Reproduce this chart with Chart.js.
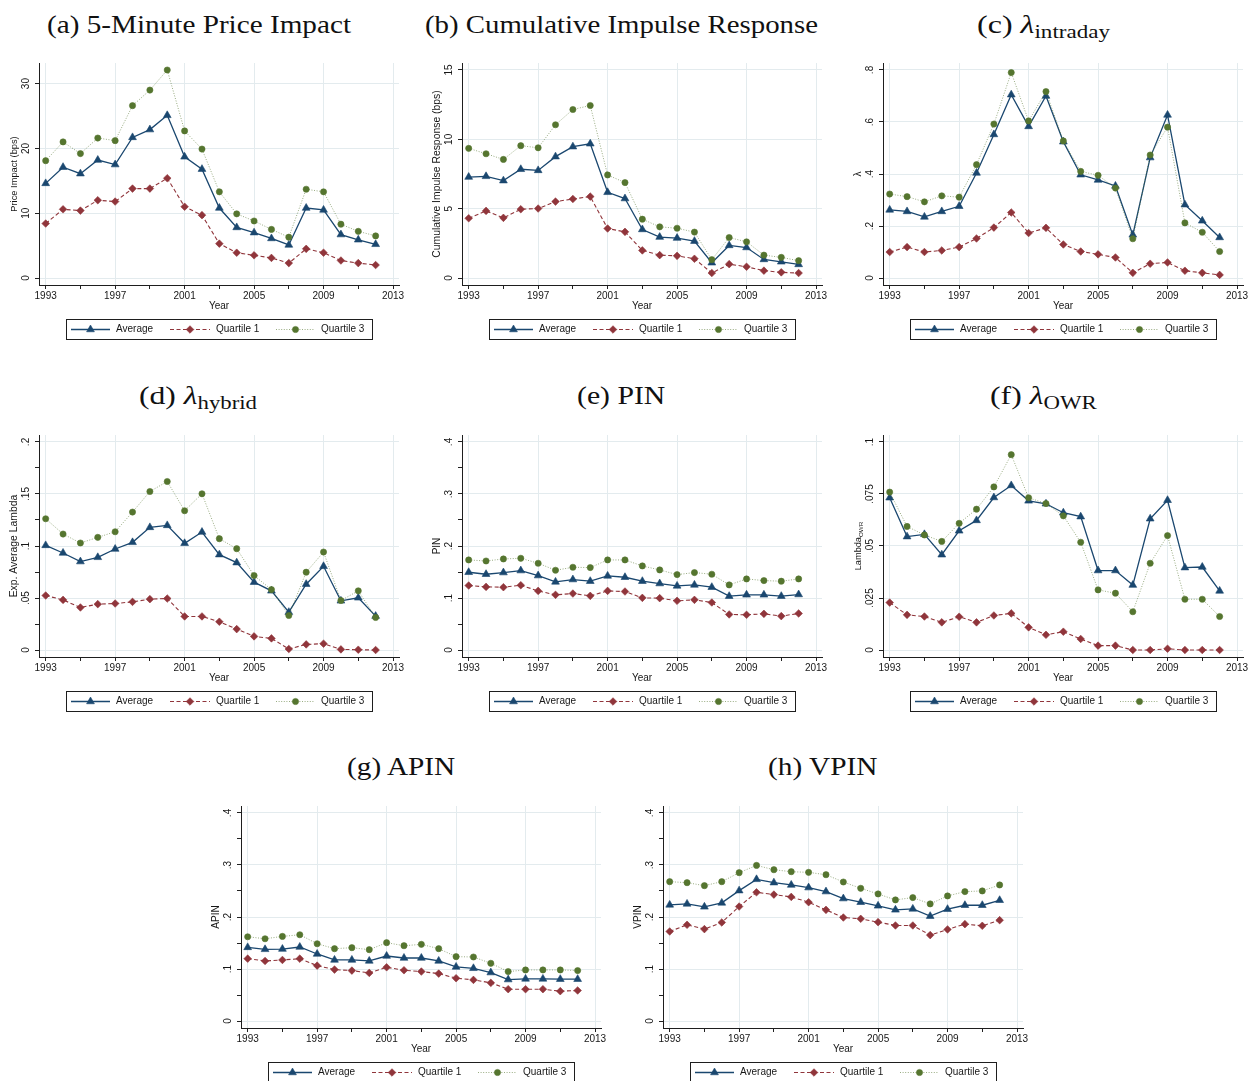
<!DOCTYPE html>
<html>
<head>
<meta charset="utf-8">
<title>Price impact and information asymmetry measures, 1993-2012</title>
<script src="https://cdn.jsdelivr.net/npm/chart.js@4.4.1/dist/chart.umd.min.js"></script>
<style>
  html, body { margin: 0; padding: 0; background: #fff; width: 1250px; height: 1081px; overflow: hidden; }
  canvas { position: absolute; }
  .ttl { position: absolute; white-space: nowrap; font-family: "Liberation Serif", "Times New Roman", serif;
         font-size: 26px; line-height: 1; color: #111; transform-origin: 0 0; }
  .ttl .lam { font-style: italic; }
  .ttl .sb { position: relative; top: 0.28em; font-size: 0.72em; }
</style>
</head>
<body>
<script>
// ---- data -------------------------------------------------------------
const years = [1993, 1994, 1995, 1996, 1997, 1998, 1999, 2000, 2001, 2002,
               2003, 2004, 2005, 2006, 2007, 2008, 2009, 2010, 2011, 2012];
const xMajorTicks = [1993, 1997, 2001, 2005, 2009, 2013];
const xMinorTicks = [1995, 1999, 2003, 2007, 2011];
const seriesNames = ['Average', 'Quartile 1', 'Quartile 3'];

// (a) 5-minute price impact, bps
const priceImpactAvg = [14.6, 17.1, 16.1, 18.2, 17.5, 21.7, 22.9, 25.1, 18.7, 16.8, 10.8, 7.8, 7.0, 6.1, 5.1, 10.8, 10.5, 6.7, 5.9, 5.2];
const priceImpactQ1  = [8.4, 10.6, 10.4, 12.0, 11.8, 13.8, 13.8, 15.4, 11.0, 9.7, 5.3, 3.9, 3.5, 3.1, 2.3, 4.5, 3.9, 2.7, 2.3, 2.0];
const priceImpactQ3  = [18.1, 21.0, 19.2, 21.6, 21.2, 26.6, 29.0, 32.1, 22.7, 19.9, 13.3, 9.9, 8.8, 7.5, 6.3, 13.7, 13.3, 8.3, 7.2, 6.5];
const priceImpactTicks = [0, 10, 20, 30];
const priceImpactTickLabels = ['0', '10', '20', '30'];

// (b) cumulative impulse response, bps
const cirAvg = [7.28, 7.33, 7.02, 7.84, 7.76, 8.75, 9.47, 9.68, 6.18, 5.73, 3.50, 2.95, 2.88, 2.66, 1.10, 2.35, 2.20, 1.34, 1.17, 0.98];
const cirQ1  = [4.31, 4.84, 4.34, 4.96, 5.01, 5.51, 5.70, 5.87, 3.57, 3.33, 1.99, 1.65, 1.60, 1.39, 0.36, 1.00, 0.81, 0.53, 0.41, 0.36];
const cirQ3  = [9.35, 8.96, 8.55, 9.54, 9.39, 11.05, 12.15, 12.44, 7.43, 6.88, 4.24, 3.69, 3.59, 3.31, 1.32, 2.92, 2.61, 1.65, 1.49, 1.25];
const cirTicks = [0, 5, 10, 15];
const cirTickLabels = ['0', '5', '10', '15'];

// (c) intraday lambda
const lamIntraAvg = [.262, .256, .235, .256, .276, .404, .552, .705, .583, .700, .524, .397, .377, .354, .166, .463, .627, .282, .220, .156];
const lamIntraQ1  = [.100, .119, .100, .106, .119, .152, .194, .252, .173, .193, .129, .102, .091, .079, .020, .055, .060, .028, .020, .012];
const lamIntraQ3  = [.323, .313, .293, .316, .311, .436, .592, .790, .604, .717, .527, .410, .395, .346, .151, .473, .580, .212, .176, .102];
const lamIntraTicks = [0, .2, .4, .6, .8];
const lamIntraTickLabels = ['0', '.2', '.4', '.6', '.8'];

// (d) hybrid lambda
const lamHybAvg = [.1006, .0933, .0850, .0891, .0971, .1035, .1179, .1198, .1026, .1134, .0917, .0840, .0652, .0569, .0364, .0633, .0805, .0473, .0502, .0326];
const lamHybQ1  = [.0524, .0482, .0409, .0441, .0447, .0463, .0489, .0495, .0323, .0323, .0272, .0201, .0131, .0112, .0010, .0054, .0061, .0006, .0003, .0000];
const lamHybQ3  = [.1262, .1115, .1029, .1083, .1137, .1326, .1524, .1620, .1339, .1502, .1070, .0974, .0716, .0581, .0332, .0748, .0942, .0476, .0569, .0313];
const lamHybTicks = [0, .05, .1, .15, .2];
const lamHybTickLabels = ['0', '.05', '.1', '.15', '.2'];
const lamHybMinorTicks = [.025, .075, .125, .175];

// (e) PIN
const pinAvg = [.1495, .1457, .1489, .1527, .1431, .1310, .1355, .1323, .1425, .1399, .1323, .1278, .1233, .1252, .1208, .1035, .1061, .1061, .1035, .1067];
const pinQ1  = [.1240, .1214, .1208, .1246, .1137, .1061, .1086, .1042, .1137, .1125, .1003, .0997, .0946, .0965, .0914, .0684, .0677, .0696, .0652, .0703];
const pinQ3  = [.1732, .1712, .1751, .1764, .1668, .1534, .1591, .1585, .1732, .1732, .1617, .1540, .1450, .1489, .1457, .1252, .1367, .1335, .1323, .1367];

// (f) OWR lambda
const lamOwrAvg = [.0732, .0545, .0556, .0458, .0573, .0623, .0733, .0791, .0717, .0703, .0660, .0641, .0382, .0382, .0312, .0631, .0720, .0396, .0399, .0284];
const lamOwrQ1  = [.0228, .0169, .0161, .0133, .0160, .0133, .0166, .0176, .0109, .0073, .0088, .0053, .0021, .0021, .0000, .0000, .0006, .0000, .0000, .0000];
const lamOwrQ3  = [.0759, .0594, .0553, .0522, .0609, .0677, .0784, .0939, .0732, .0704, .0645, .0518, .0289, .0273, .0184, .0417, .0550, .0244, .0244, .0161];
const lamOwrTicks = [0, .025, .05, .075, .1];
const lamOwrTickLabels = ['0', '.025', '.05', '.075', '.1'];

// (g) APIN
const apinAvg = [.1416, .1378, .1384, .1423, .1289, .1174, .1174, .1155, .1250, .1212, .1212, .1155, .1040, .1014, .0931, .0797, .0810, .0810, .0804, .0804];
const apinQ1  = [.1199, .1155, .1174, .1199, .1065, .0989, .0970, .0925, .1033, .0976, .0951, .0912, .0823, .0791, .0734, .0612, .0612, .0612, .0574, .0587];
const apinQ3  = [.1620, .1582, .1627, .1659, .1486, .1391, .1410, .1372, .1506, .1448, .1474, .1391, .1238, .1231, .1110, .0951, .0982, .0982, .0982, .0970];

// (h) VPIN
const vpinAvg = [.2233, .2252, .2195, .2271, .2507, .2724, .2660, .2616, .2565, .2488, .2354, .2284, .2214, .2137, .2156, .2016, .2150, .2226, .2226, .2322];
const vpinQ1  = [.1722, .1850, .1767, .1895, .2201, .2475, .2431, .2386, .2284, .2137, .1990, .1965, .1901, .1837, .1837, .1652, .1761, .1863, .1831, .1939];
const vpinQ3  = [.2679, .2660, .2603, .2679, .2852, .2992, .2909, .2871, .2858, .2813, .2673, .2552, .2443, .2329, .2373, .2252, .2405, .2488, .2501, .2616];

// shared 0-.4 probability axis (PIN, APIN, VPIN)
const probTicks = [0, .1, .2, .3, .4];
const probTickLabels = ['0', '.1', '.2', '.3', '.4'];
const probMinorTicks = [.05, .15, .25, .35];

// ---- layout / style --------------------------------------------------
const PLOT_W = 360, PLOT_H = 222;
const PAD_L = 40, PAD_T = 14, PAD_R = 20, X_H = 30, BELOW = 58;
const X_MIN = 1992.615, X_MAX = 2013.345;
const GRID = '#e3ebee';
const INK = '#161616';
const SANS = '"Liberation Sans", Arial, Helvetica, sans-serif';

Chart.defaults.font.family = SANS;
Chart.defaults.font.size = 10;
Chart.defaults.color = INK;

const seriesStyles = [
  { fill: '#1a476f', line: '#1a476f',               width: 1.3, dash: [],      point: 'triangle', r: 4.5, order: 3 },
  { fill: '#90353b', line: '#90353b',               width: 1.1, dash: [4, 2.5], point: 'rectRot',  r: 3.8, order: 2 },
  { fill: '#55752f', line: 'rgba(85,117,47,0.6)',   width: 1.0, dash: [1, 1.6], point: 'circle',   r: 3.1, order: 1 }
];

const panels = [
  { left: 39,  top: 63,  titleHtml: '(a) 5-Minute Price Impact', titleCx: 198.7, titleW: 304, titleBase: 33.3,
    series: [priceImpactAvg, priceImpactQ1, priceImpactQ3], yMajor: priceImpactTicks, yLabels: priceImpactTickLabels, yMinor: [],
    yMin: -1.08, yMax: 33.18, yTitle: [['Price Impact (bps)', false]], yTitleSize: 9.3 },
  { left: 462, top: 63,  titleHtml: '(b) Cumulative Impulse Response', titleCx: 621.7, titleW: 393, titleBase: 33.3,
    series: [cirAvg, cirQ1, cirQ3], yMajor: cirTicks, yLabels: cirTickLabels, yMinor: [],
    yMin: -0.503, yMax: 15.503, yTitle: [['Cumulative Impulse Response (bps)', false]], yTitleSize: 10.4 },
  { left: 883, top: 63,  titleHtml: '(c) <span class="lam">λ</span><span class="sb">intraday</span>', titleCx: 1043, titleW: 133, titleBase: 33.3,
    series: [lamIntraAvg, lamIntraQ1, lamIntraQ3], yMajor: lamIntraTicks, yLabels: lamIntraTickLabels, yMinor: [],
    yMin: -0.0268, yMax: 0.8268, yTitle: [['λ', false]], yTitleSize: 10 },
  { left: 39,  top: 435, titleHtml: '(d) <span class="lam">λ</span><span class="sb">hybrid</span>', titleCx: 198.3, titleW: 118, titleBase: 404.3,
    series: [lamHybAvg, lamHybQ1, lamHybQ3], yMajor: lamHybTicks, yLabels: lamHybTickLabels, yMinor: lamHybMinorTicks,
    yMin: -0.0067, yMax: 0.2067, yTitle: [['Exp. Average Lambda', false]], yTitleSize: 10.4 },
  { left: 462, top: 435, titleHtml: '(e) PIN', titleCx: 620.8, titleW: 88.3, titleBase: 404.3,
    series: [pinAvg, pinQ1, pinQ3], yMajor: probTicks, yLabels: probTickLabels, yMinor: probMinorTicks,
    yMin: -0.0134, yMax: 0.4134, yTitle: [['PIN', false]], yTitleSize: 10 },
  { left: 883, top: 435, titleHtml: '(f) <span class="lam">λ</span><span class="sb">OWR</span>', titleCx: 1043.3, titleW: 106.7, titleBase: 404.3,
    series: [lamOwrAvg, lamOwrQ1, lamOwrQ3], yMajor: lamOwrTicks, yLabels: lamOwrTickLabels, yMinor: [],
    yMin: -0.00336, yMax: 0.10336, yTitle: [['Lambda', false], ['OWR', true]], yTitleSize: 9.2 },
  { left: 241, top: 806, titleHtml: '(g) APIN', titleCx: 400.8, titleW: 108.3, titleBase: 776,
    series: [apinAvg, apinQ1, apinQ3], yMajor: probTicks, yLabels: probTickLabels, yMinor: probMinorTicks,
    yMin: -0.0134, yMax: 0.4134, yTitle: [['APIN', false]], yTitleSize: 10 },
  { left: 663, top: 806, titleHtml: '(h) VPIN', titleCx: 823, titleW: 109.4, titleBase: 776,
    series: [vpinAvg, vpinQ1, vpinQ3], yMajor: probTicks, yLabels: probTickLabels, yMinor: probMinorTicks,
    yMin: -0.0134, yMax: 0.4134, yTitle: [['VPIN', false]], yTitleSize: 10 }
];

// ---- drawing helpers -------------------------------------------------
function drawMarker(ctx, style, x, y, r, color) {
  ctx.save();
  ctx.fillStyle = color;
  ctx.strokeStyle = color;
  ctx.lineWidth = 0.6;
  ctx.beginPath();
  if (style === 'triangle') {
    ctx.moveTo(x, y - r);
    ctx.lineTo(x + 0.866 * r, y + 0.5 * r);
    ctx.lineTo(x - 0.866 * r, y + 0.5 * r);
    ctx.closePath();
  } else if (style === 'rectRot') {
    ctx.moveTo(x - r, y); ctx.lineTo(x, y - r); ctx.lineTo(x + r, y); ctx.lineTo(x, y + r);
    ctx.closePath();
  } else {
    ctx.arc(x, y, r, 0, Math.PI * 2);
  }
  ctx.fill();
  ctx.stroke();
  ctx.restore();
}

// rotated y tick labels, y-axis title (with optional subscript) and the boxed legend
const stataDecor = {
  id: 'stataDecor',
  afterDraw(chart, args, o) {
    const ctx = chart.ctx;
    const a = chart.chartArea;
    const ys = chart.scales.y;
    ctx.save();
    ctx.fillStyle = INK;
    ctx.font = '10px ' + SANS;
    ctx.textAlign = 'center';
    ctx.textBaseline = 'middle';
    o.yMajor.forEach((v, i) => {
      const py = ys.getPixelForValue(v);
      ctx.save();
      ctx.translate(a.left - 12.5, py);
      ctx.rotate(-Math.PI / 2);
      ctx.fillText(o.yLabels[i], 0, 0);
      ctx.restore();
    });

    // axis title
    const mainFont = o.yTitleSize + 'px ' + SANS;
    const subFont = (o.yTitleSize * 0.68).toFixed(2) + 'px ' + SANS;
    ctx.save();
    ctx.translate(a.left - 24.5, (a.top + a.bottom) / 2);
    ctx.rotate(-Math.PI / 2);
    let total = 0;
    o.yTitle.forEach(([t, sub]) => { ctx.font = sub ? subFont : mainFont; total += ctx.measureText(t).width; });
    let tx = -total / 2;
    ctx.textAlign = 'left';
    o.yTitle.forEach(([t, sub]) => {
      ctx.font = sub ? subFont : mainFont;
      ctx.fillText(t, tx, sub ? o.yTitleSize * 0.32 : 0);
      tx += ctx.measureText(t).width;
    });
    ctx.restore();

    // legend
    const bx = Math.round(a.left + 27), by = Math.round(a.bottom + 33.5);
    const bw = 306, bh = 20;
    ctx.strokeStyle = '#1e1e1e';
    ctx.lineWidth = 1;
    ctx.strokeRect(bx + 0.5, by + 0.5, bw, bh);
    const cy = by + 10.5;
    const slots = [
      { x0: 5,   x1: 44,  mx: 24.5,  tx: 50 },
      { x0: 104, x1: 144, mx: 124,   tx: 150 },
      { x0: 210, x1: 249, mx: 229.5, tx: 255 }
    ];
    slots.forEach((s, k) => {
      const ds = chart.data.datasets[k];
      ctx.save();
      ctx.strokeStyle = ds.borderColor;
      ctx.lineWidth = ds.borderWidth;
      ctx.setLineDash(ds.borderDash);
      ctx.beginPath();
      ctx.moveTo(bx + s.x0, cy);
      ctx.lineTo(bx + s.x1, cy);
      ctx.stroke();
      ctx.setLineDash([]);
      drawMarker(ctx, ds.pointStyle, bx + s.mx, cy, ds.pointRadius, ds.pointBackgroundColor);
      ctx.fillStyle = INK;
      ctx.font = '10px ' + SANS;
      ctx.textAlign = 'left';
      ctx.textBaseline = 'middle';
      ctx.fillText(ds.label, bx + s.tx, cy);
      ctx.restore();
    });
    ctx.restore();
  }
};

function makePanel(p) {
  const W = PAD_L + PLOT_W + PAD_R, H = PAD_T + PLOT_H + BELOW;
  const cv = document.createElement('canvas');
  cv.width = W; cv.height = H;
  cv.style.left = (p.left - PAD_L) + 'px';
  cv.style.top = (p.top - PAD_T) + 'px';
  cv.style.width = W + 'px';
  cv.style.height = H + 'px';
  document.body.appendChild(cv);

  const near = (list, v) => list.some(m => Math.abs(m - v) < 1e-9);
  const yTicks = p.yMajor.concat(p.yMinor).sort((u, v) => u - v);
  const xTicks = xMajorTicks.concat(xMinorTicks).sort((u, v) => u - v);

  const datasets = p.series.map((vals, k) => {
    const st = seriesStyles[k];
    return {
      label: seriesNames[k],
      data: years.map((yr, i) => ({ x: yr, y: vals[i] })),
      borderColor: st.line,
      borderWidth: st.width,
      borderDash: st.dash,
      pointStyle: st.point,
      pointRadius: st.r,
      pointBackgroundColor: st.fill,
      pointBorderColor: st.fill,
      pointBorderWidth: 0.6,
      tension: 0,
      fill: false,
      order: st.order
    };
  });

  new Chart(cv, {
    type: 'line',
    data: { datasets },
    plugins: [stataDecor],
    options: {
      responsive: false,
      animation: false,
      devicePixelRatio: 1,
      events: [],
      layout: { padding: { left: 0, top: PAD_T, right: PAD_R, bottom: BELOW - X_H } },
      plugins: {
        legend: { display: false },
        tooltip: { enabled: false },
        stataDecor: { yMajor: p.yMajor, yLabels: p.yLabels, yTitle: p.yTitle, yTitleSize: p.yTitleSize }
      },
      scales: {
        x: {
          type: 'linear', min: X_MIN, max: X_MAX, bounds: 'data',
          afterBuildTicks: s => { s.ticks = xTicks.map(v => ({ value: v })); },
          afterFit: s => { s.height = X_H; },
          ticks: { autoSkip: false, maxRotation: 0, minRotation: 0, padding: 1, color: INK,
                   font: { size: 10 }, callback: v => near(xMajorTicks, v) ? String(v) : '' },
          grid: { color: c => (c.tick && near(xMajorTicks, c.tick.value)) ? GRID : 'rgba(0,0,0,0)',
                  lineWidth: 1, tickLength: 4, tickColor: '#222', tickWidth: 1 },
          border: { display: true, color: '#1e1e1e', width: 1 },
          title: { display: true, text: 'Year', color: INK, font: { size: 10 }, padding: { top: 0, bottom: 3 } }
        },
        y: {
          type: 'linear', min: p.yMin, max: p.yMax, bounds: 'data',
          afterBuildTicks: s => { s.ticks = yTicks.map(v => ({ value: v })); },
          afterFit: s => { s.width = PAD_L; },
          ticks: { display: false },
          grid: { color: c => (c.tick && near(p.yMajor, c.tick.value)) ? GRID : 'rgba(0,0,0,0)',
                  lineWidth: 1, tickLength: 4, tickColor: '#222', tickWidth: 1 },
          border: { display: true, color: '#1e1e1e', width: 1 }
        }
      }
    }
  });
}

function placeTitle(p) {
  const el = document.createElement('div');
  el.className = 'ttl';
  el.innerHTML = p.titleHtml;
  document.body.appendChild(el);
  const fit = () => {
    el.style.transform = 'none';
    const w = el.getBoundingClientRect().width;
    el.style.left = (p.titleCx - p.titleW / 2) + 'px';
    el.style.top = (p.titleBase - 0.8375 * 26) + 'px';
    el.style.transform = 'scaleX(' + (p.titleW / w).toFixed(4) + ')';
  };
  fit();
  if (document.fonts && document.fonts.ready) document.fonts.ready.then(fit);
}

panels.forEach(p => { makePanel(p); placeTitle(p); });
</script>
</body>
</html>
